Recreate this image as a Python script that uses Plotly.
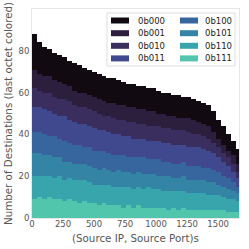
import numpy as np
import plotly.graph_objects as go

# ---- data (42 bins of 40 (Source IP, Source Port)s each) ----
labels = ["0b000", "0b001", "0b010", "0b011", "0b100", "0b101", "0b110", "0b111"]
colors = ["#110b11", "#2c1e3d", "#3a2e5f", "#40498e", "#37659e", "#3484a5", "#38a4ab", "#52c5ad"]

v_0b111 = [9,10,9,10,9,9,8,9,8,7,8,7,7,6,7,6,6,6,5,6,5,6,5,5,5,5,5,4,5,4,5,4,4,4,4,4,4,4,4,3,3,3]
v_0b110 = [11,10,11,10,10,11,10,10,10,11,10,10,9,10,9,10,9,9,10,9,9,9,9,10,9,9,8,9,8,9,8,8,8,8,8,7,7,7,6,6,6,5]
v_0b101 = [11,11,10,10,10,9,9,8,8,8,8,8,8,7,8,7,7,8,7,7,7,7,7,6,7,6,7,7,6,6,7,6,6,6,6,6,6,5,5,5,4,4]
v_0b100 = [10,10,10,9,10,9,10,9,9,9,8,9,8,9,8,8,8,7,8,7,8,7,8,7,7,8,7,7,7,7,7,7,7,7,6,7,6,6,5,5,4,3]
v_0b011 = [12,12,12,12,11,11,12,11,11,10,11,10,11,10,10,10,10,10,9,10,9,9,9,9,9,9,9,9,9,9,8,9,9,9,9,8,8,7,7,6,5,4]
v_0b010 = [9,8,8,9,8,8,8,9,8,8,8,8,8,8,7,8,8,7,8,7,8,7,7,7,7,7,7,7,7,7,7,7,6,6,6,6,5,5,4,4,4,3]
v_0b001 = [9,8,8,8,8,8,7,7,7,7,7,7,7,7,7,6,7,7,7,7,7,7,7,7,7,6,7,6,7,6,6,7,7,6,6,6,5,4,4,3,4,4]
v_0b000 = [17,15,14,13,13,13,13,12,13,13,12,12,12,12,12,12,12,12,11,11,11,11,11,11,11,11,10,11,10,11,10,10,10,10,10,10,10,9,9,8,7,7]

x_ticks = [0, 250, 500, 750, 1000, 1250, 1500]
y_ticks = [0, 20, 40, 60, 80]

series = {
    "0b000": v_0b000, "0b001": v_0b001, "0b010": v_0b010, "0b011": v_0b011,
    "0b100": v_0b100, "0b101": v_0b101, "0b110": v_0b110, "0b111": v_0b111,
}

BIN = 40
n_bins = len(v_0b000)
x_centers = np.arange(n_bins) * BIN + BIN / 2

fig = go.Figure()
# bottom of the stack is 0b111, top is 0b000
for name, col in reversed(list(zip(labels, colors))):
    fig.add_trace(go.Bar(
        x=x_centers, y=series[name], width=BIN, name=name,
        marker=dict(color=col, line=dict(width=0)),
        showlegend=False,
    ))

# ---- plot-area geometry in pixels ----
W = H = 249
L, R, T, B = 32, 10, 9, 31
pw, ph = W - L - R, H - T - B

def px_x(px):
    return (px - L) / pw

def px_y(py):
    return (H - B - py) / ph

# legend drawn as shapes + text (two columns, like the reference)
shapes = [dict(type="rect", xref="paper", yref="paper",
               x0=px_x(107), x1=px_x(235), y0=px_y(66), y1=px_y(13),
               fillcolor="rgba(255,255,255,0.9)", line=dict(color="#dddddd", width=1))]
annotations = []
row_y = [20.5, 33.2, 45.8, 58.4]
col_patch = [111, 180]
col_text = [136, 203]
for idx, (name, col) in enumerate(zip(labels, colors)):
    c, r = idx // 4, idx % 4
    shapes.append(dict(type="rect", xref="paper", yref="paper",
                       x0=px_x(col_patch[c]), x1=px_x(col_patch[c] + 18),
                       y0=px_y(row_y[r] + 3), y1=px_y(row_y[r] - 3),
                       fillcolor=col, line=dict(width=0)))
    annotations.append(dict(xref="paper", yref="paper", x=px_x(col_text[c]), y=px_y(row_y[r]),
                            text=name, showarrow=False, xanchor="left", yanchor="middle",
                            font=dict(size=8.5, color="#222222")))

# x-axis title (placed as text just under the tick labels, as in the reference)
annotations.append(dict(xref="paper", yref="paper", x=0.5, y=px_y(230),
                        text="(Source IP, Source Port)s", showarrow=False,
                        xanchor="center", yanchor="top",
                        font=dict(size=10.3, color="#555555")))

fig.update_layout(
    width=W, height=H,
    margin=dict(l=L, r=R, t=T, b=B, pad=0, autoexpand=False),
    barmode="stack", bargap=0,
    paper_bgcolor="white", plot_bgcolor="white",
    font=dict(family="DejaVu Sans", size=8, color="#555555"),
    shapes=shapes, annotations=annotations,
    showlegend=False,
)
fig.update_xaxes(range=[0, 1668], tickvals=x_ticks, ticks="", showgrid=False, zeroline=False,
                 automargin=False, ticklabelstandoff=-2,
                 showline=True, mirror=True, linecolor="#e6e6e6", linewidth=1,
                 tickfont=dict(size=8.5, color="#555555"))
fig.update_yaxes(range=[0, 100], tickvals=y_ticks, ticks="", showgrid=False, zeroline=False,
                 automargin=True,
                 showline=True, mirror=True, linecolor="#e6e6e6", linewidth=1,
                 title=dict(text="Number of Destinations (last octet colored)", font=dict(size=10.3, color="#555555"), standoff=3),
                 tickfont=dict(size=8.5, color="#555555"))

fig.write_html("out.html", config={"displayModeBar": False},
               post_script="document.body.style.margin='0';document.body.style.overflow='hidden';")
